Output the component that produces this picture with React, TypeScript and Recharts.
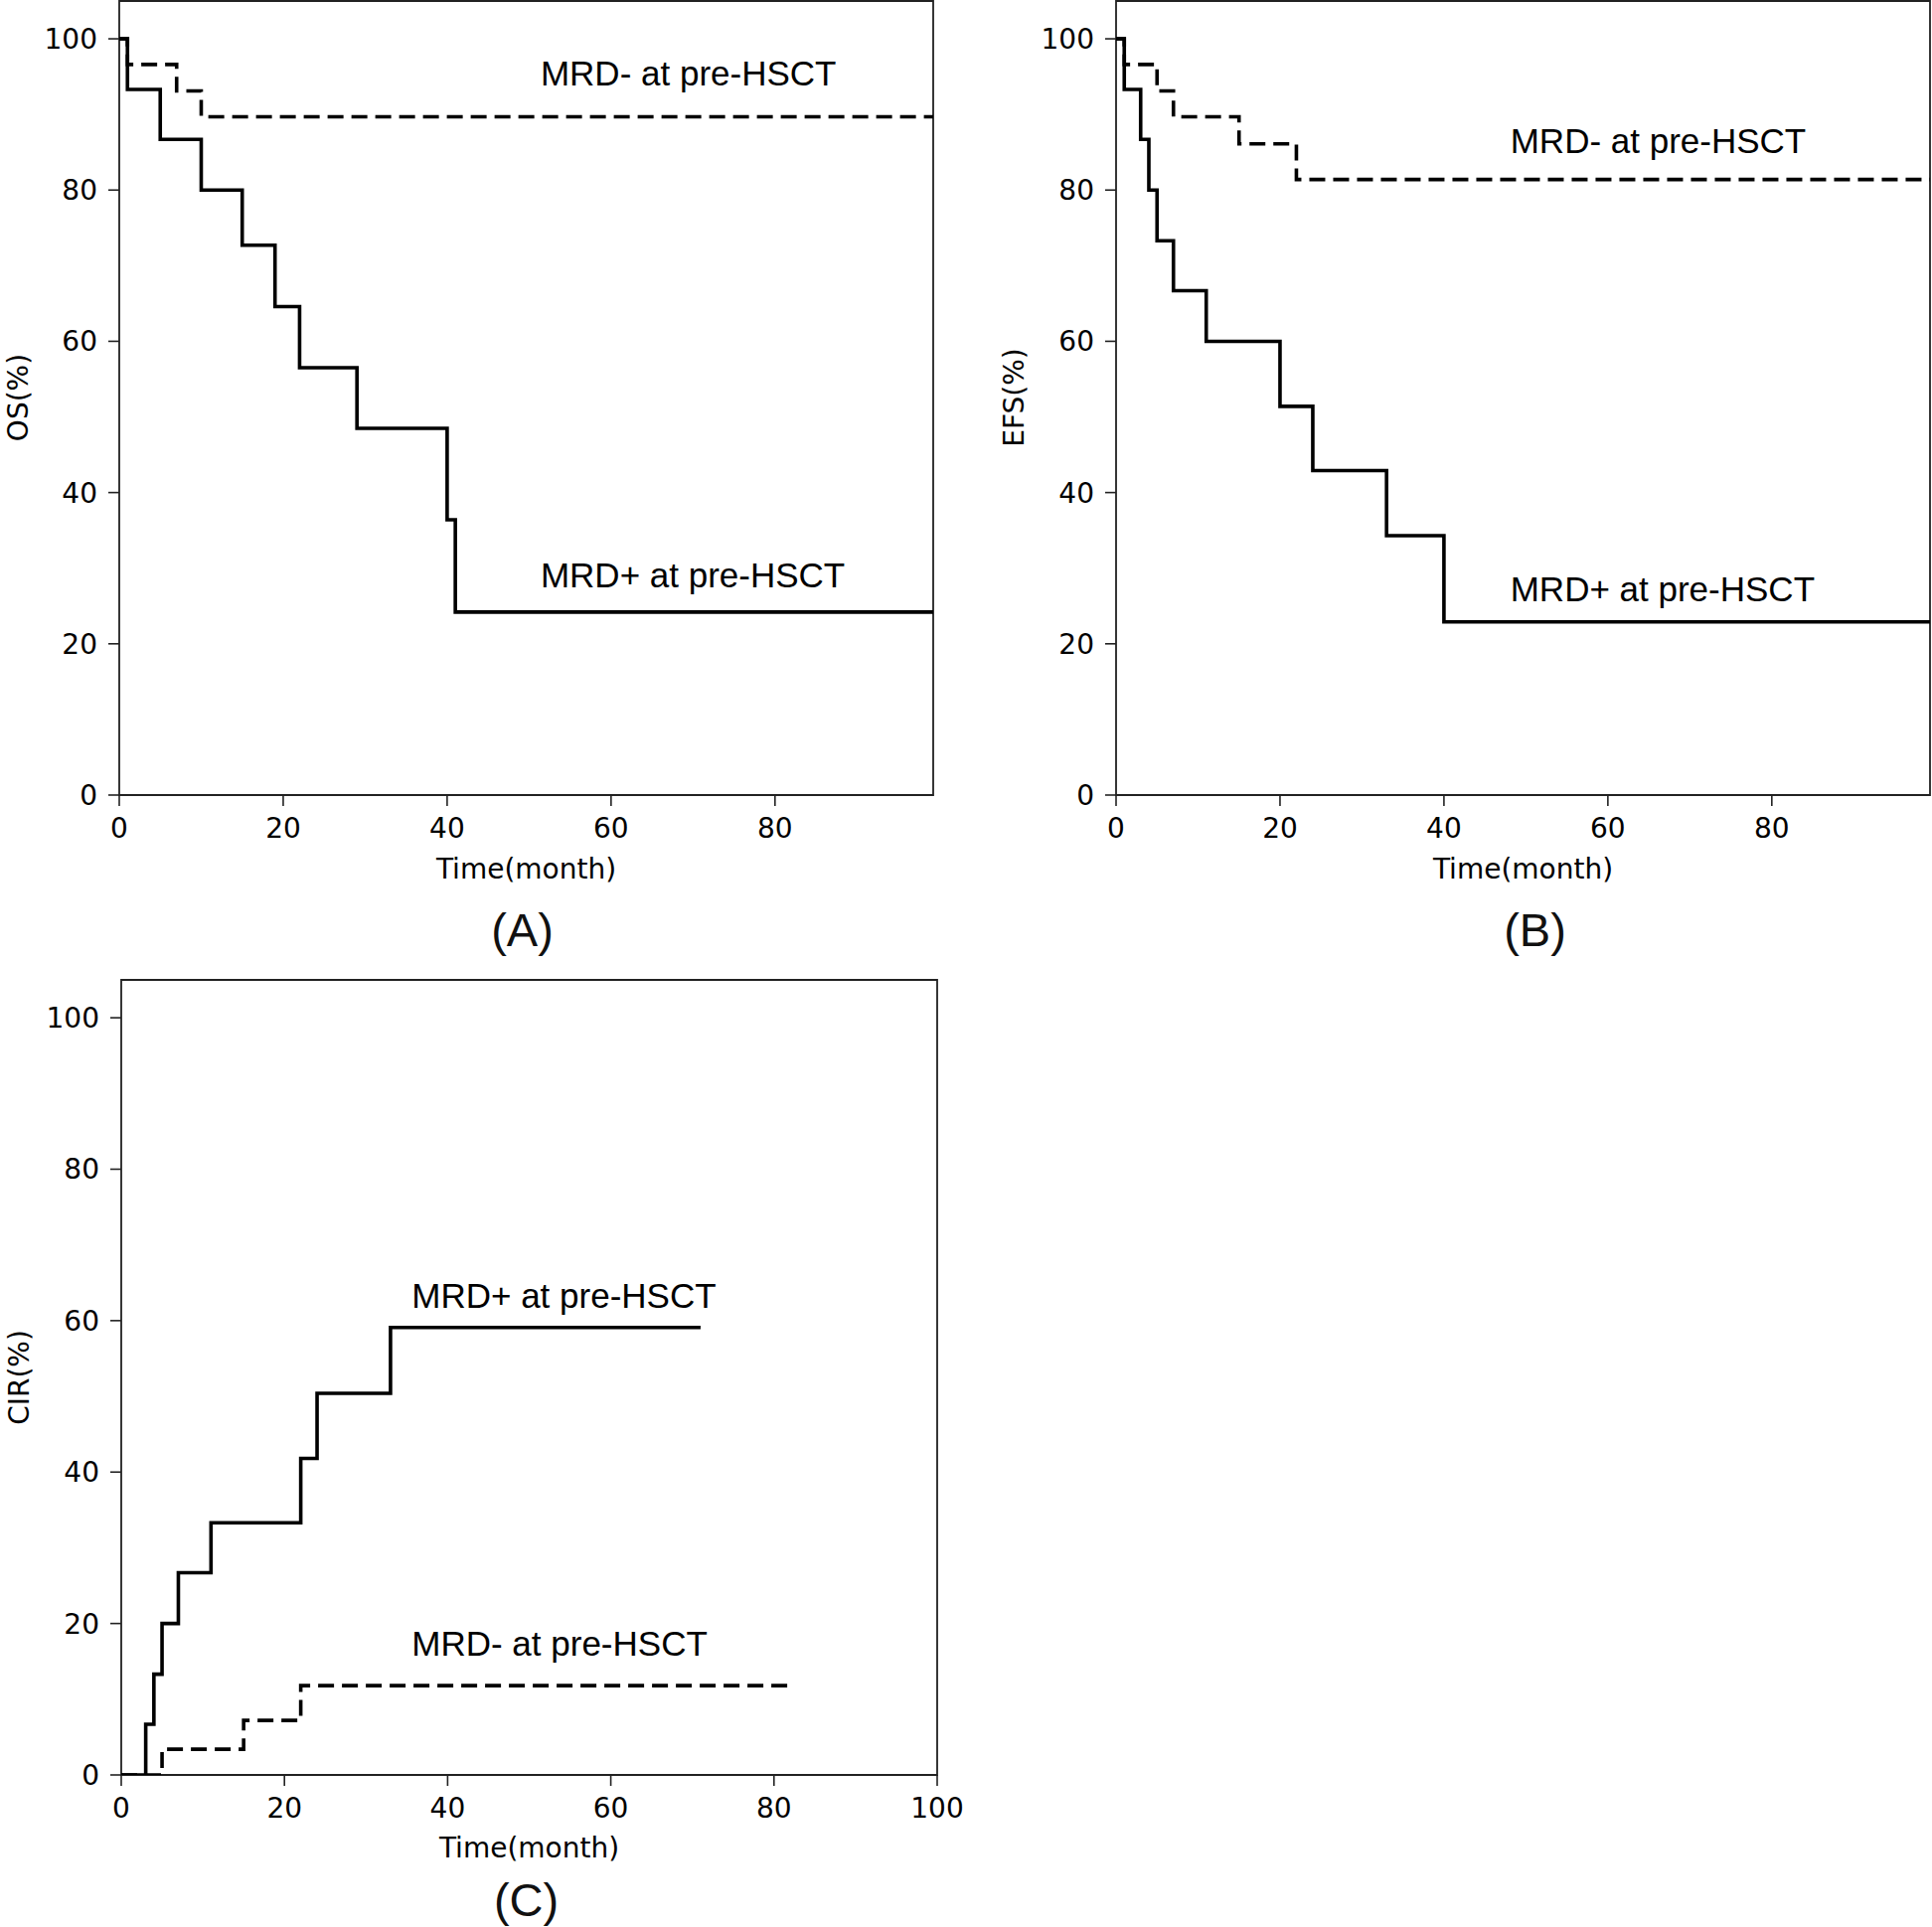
import React from 'react';
import { LineChart, Line, XAxis, YAxis, ReferenceArea, ReferenceDot } from 'recharts';

// ---- Data (time in months, value in %) ----
const OS_NEG_T = [0, 1, 7, 10, 99.3];
const OS_NEG_V = [100, 96.6, 93.1, 89.7, 89.7];
const OS_POS_T = [0, 1, 5, 10, 15, 19, 22, 29, 40, 41, 99.3];
const OS_POS_V = [100, 93.3, 86.7, 80, 72.7, 64.6, 56.5, 48.5, 36.4, 24.2, 24.2];

const EFS_NEG_T = [0, 1, 5, 7, 15, 22, 99.3];
const EFS_NEG_V = [100, 96.6, 93.1, 89.7, 86.1, 81.4, 81.4];
const EFS_POS_T = [0, 1, 3, 4, 5, 7, 11, 20, 24, 33, 40, 99.3];
const EFS_POS_V = [100, 93.3, 86.7, 80, 73.3, 66.7, 60, 51.4, 42.9, 34.3, 22.9, 22.9];

const CIR_POS_T = [0, 3, 4, 5, 7, 11, 22, 24, 33, 71];
const CIR_POS_V = [0, 6.7, 13.3, 20, 26.7, 33.3, 41.8, 50.4, 59.1, 59.1];
const CIR_NEG_T = [0, 5, 15, 22, 82];
const CIR_NEG_V = [0, 3.4, 7.2, 11.8, 11.8];

const Y_TICKS = [0, 20, 40, 60, 80, 100];
const X_TICKS_AB = [0, 20, 40, 60, 80];
const X_TICKS_C = [0, 20, 40, 60, 80, 100];

const NEG_LABEL = 'MRD- at pre-HSCT';
const POS_LABEL = 'MRD+ at pre-HSCT';

const zip = (t: number[], v: number[]) => t.map((x, i) => ({ t: x, v: v[i] }));

const TICK_FONT = { fontFamily: 'DejaVu Sans', fontSize: 28, fill: '#000' };
const ANN_FONT = 'Liberation Sans';

type PanelProps = {
  left: number; top: number; width: number; height: number;
  plot: { l: number; t: number; r: number; b: number };
  xMax: number; xTicks: number[];
  solid: { t: number; v: number }[];
  dashed: { t: number; v: number }[];
  labels: { x: number; y: number; text: string }[];
};

function Panel(p: PanelProps) {
  const yAxisW = p.plot.l - p.left;
  const xAxisH = 100;
  const margin = {
    top: p.plot.t - p.top,
    left: 0,
    right: p.left + p.width - p.plot.r,
    bottom: p.top + p.height - p.plot.b - xAxisH,
  };
  return (
    <div style={{ position: 'absolute', left: p.left, top: p.top }}>
      <LineChart width={p.width} height={p.height} margin={margin}>
        <XAxis
          dataKey="t"
          type="number"
          domain={[0, p.xMax]}
          ticks={p.xTicks}
          allowDataOverflow
          height={xAxisH}
          axisLine={false}
          tickLine={{ stroke: '#222', strokeWidth: 1.6 }}
          tickSize={11}
          tickMargin={12}
          tick={TICK_FONT}
          interval={0}
        />
        <YAxis
          dataKey="v"
          type="number"
          domain={[0, 105]}
          ticks={Y_TICKS}
          allowDataOverflow
          width={yAxisW}
          axisLine={false}
          tickLine={{ stroke: '#222', strokeWidth: 1.6 }}
          tickSize={11}
          tickMargin={11}
          tick={TICK_FONT}
          interval={0}
        />
        <ReferenceArea
          x1={0} x2={p.xMax} y1={0} y2={105}
          fill="none" fillOpacity={0}
          stroke="#222" strokeWidth={1.8}
          ifOverflow="visible"
        />
        <Line
          data={p.dashed} dataKey="v" type="stepAfter"
          stroke="#000" strokeWidth={3.6} strokeDasharray="16 8"
          dot={false} activeDot={false} isAnimationActive={false}
        />
        <Line
          data={p.solid} dataKey="v" type="stepAfter"
          stroke="#000" strokeWidth={3.6}
          dot={false} activeDot={false} isAnimationActive={false}
        />
        {p.labels.map((l, i) => (
          <ReferenceDot
            key={i} x={l.x} y={l.y} r={0} fill="none" stroke="none" ifOverflow="visible"
            label={{ value: l.text, position: 'right', offset: 0, fontFamily: ANN_FONT, fontSize: 35, fill: '#000' }}
          />
        ))}
      </LineChart>
    </div>
  );
}

export default function App() {
  const axisLbl = { fontFamily: 'DejaVu Sans', fontSize: 28, fill: '#000' } as const;
  const letter = { fontFamily: 'Liberation Sans', fontSize: 47, fill: '#111' } as const;
  return (
    <div style={{ position: 'absolute', left: 0, top: 0, width: 1944, height: 1939, background: '#fff', overflow: 'hidden' }}>
      <Panel
        left={0} top={0} width={1000} height={1000}
        plot={{ l: 120, t: 1, r: 939, b: 800 }}
        xMax={99.3} xTicks={X_TICKS_AB}
        solid={zip(OS_POS_T, OS_POS_V)} dashed={zip(OS_NEG_T, OS_NEG_V)}
        labels={[{ x: 51.4, y: 95.4, text: NEG_LABEL }, { x: 51.4, y: 29.1, text: POS_LABEL }]}
      />
      <Panel
        left={1000} top={0} width={944} height={1000}
        plot={{ l: 1123, t: 1, r: 1942, b: 800 }}
        xMax={99.3} xTicks={X_TICKS_AB}
        solid={zip(EFS_POS_T, EFS_POS_V)} dashed={zip(EFS_NEG_T, EFS_NEG_V)}
        labels={[{ x: 48.1, y: 86.5, text: NEG_LABEL }, { x: 48.1, y: 27.3, text: POS_LABEL }]}
      />
      <Panel
        left={0} top={960} width={1000} height={979}
        plot={{ l: 122, t: 986, r: 943, b: 1786 }}
        xMax={100} xTicks={X_TICKS_C}
        solid={zip(CIR_POS_T, CIR_POS_V)} dashed={zip(CIR_NEG_T, CIR_NEG_V)}
        labels={[{ x: 35.6, y: 63.3, text: POS_LABEL }, { x: 35.6, y: 17.4, text: NEG_LABEL }]}
      />
      <svg width={1944} height={1939} style={{ position: 'absolute', left: 0, top: 0, pointerEvents: 'none' }}>
        <text x={18} y={400} transform="rotate(-90 18 400)" textAnchor="middle" dominantBaseline="central" {...axisLbl}>OS(%)</text>
        <text x={529.5} y={884} textAnchor="middle" {...axisLbl}>Time(month)</text>
        <text x={525.5} y={952} textAnchor="middle" {...letter}>(A)</text>

        <text x={1020} y={400} transform="rotate(-90 1020 400)" textAnchor="middle" dominantBaseline="central" {...axisLbl}>EFS(%)</text>
        <text x={1532.5} y={884} textAnchor="middle" {...axisLbl}>Time(month)</text>
        <text x={1544.5} y={952} textAnchor="middle" {...letter}>(B)</text>

        <text x={19} y={1386} transform="rotate(-90 19 1386)" textAnchor="middle" dominantBaseline="central" {...axisLbl}>CIR(%)</text>
        <text x={532.5} y={1869} textAnchor="middle" {...axisLbl}>Time(month)</text>
        <text x={529.5} y={1928} textAnchor="middle" {...letter}>(C)</text>
      </svg>
    </div>
  );
}
